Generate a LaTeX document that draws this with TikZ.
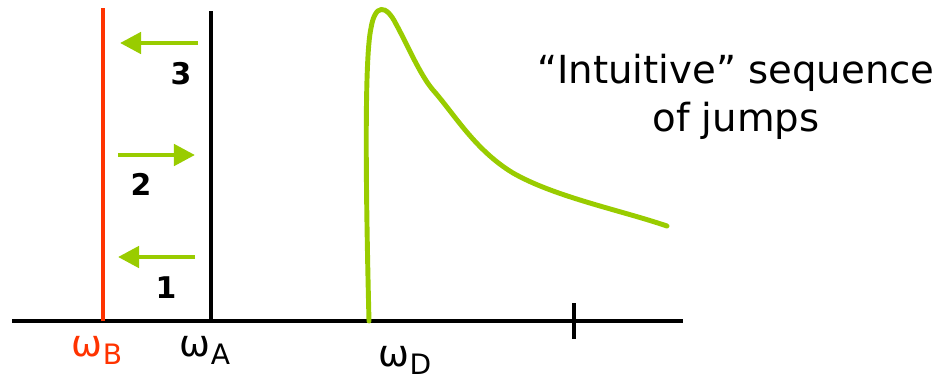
\documentclass[tikz,border=0pt]{standalone}
\usepackage{fontspec}
\setmainfont{DejaVu Sans}
\usetikzlibrary{arrows.meta,positioning}
\definecolor{jumpgreen}{HTML}{99CC00}
\definecolor{levelred}{HTML}{FF3300}
\tikzset{
  axisline/.style={line width=2.4pt, black},
  jump/.style={line width=2.6pt, jumpgreen, -{Triangle[length=12pt,width=12pt]}},
  steplabel/.style={font=\fontsize{17}{20}\selectfont\bfseries},
  freqlabel/.style={font=\fontsize{21}{24}\selectfont, anchor=base}
}
\newcommand{\freq}[1]{ω\raisebox{-0.4ex}{\fontsize{16}{18}\selectfont #1}}
\begin{document}
\begin{tikzpicture}[x=0.02cm,y=-0.02cm]
\useasboundingbox (0,0) rectangle (943,386);
% axis and levels
\coordinate (ax0) at (12,321);
\coordinate (ax1) at (683,321);
\draw[axisline] (ax0) -- (ax1);
\coordinate (Bbot) at (103,321); \coordinate (Btop) at (103,8);
\draw[line width=2.6pt, levelred] (Bbot) -- (Btop);
\coordinate (Abot) at (211,321); \coordinate (Atop) at (211,11);
\draw[axisline] (Abot) -- (Atop);
\coordinate (tk0) at (574,303); \coordinate (tk1) at (574,339);
\draw[axisline] (tk0) -- (tk1);
% jumps
\coordinate (j3s) at (198,43); \coordinate (j3e) at (120,43);
\coordinate (j2s) at (118,155); \coordinate (j2e) at (195,155);
\coordinate (j1s) at (195,257); \coordinate (j1e) at (118,257);
\draw[jump] (j3s) -- (j3e);
\draw[jump] (j2s) -- (j2e);
\draw[jump] (j1s) -- (j1e);
\node[steplabel] (n3) at (181,74) {3};
\node[steplabel] (n2) at (141,184) {2};
\node[steplabel] (n1) at (166,288) {1};
% spectrum
\draw[line width=2.8pt, jumpgreen, line cap=round] (369,321) .. controls (366,200) and (364,60) .. (371,28)
  .. controls (375,4) and (386,4) .. (396,24)
  .. controls (406,42) and (420,75) .. (433,90)
  .. controls (455,115) and (475,150) .. (513,173)
  .. controls (555,197) and (620,210) .. (667,226);
% labels
\node[freqlabel, text=levelred] (wB) at (97,356) {\freq{B}};
\node[freqlabel] (wA) at (205,356) {\freq{A}};
\node[freqlabel] (wD) at (405,366) {\freq{D}};
\node[align=center, font=\fontsize{22}{27}\selectfont] (title) at (736,97) {“Intuitive” sequence\\of jumps};
\end{tikzpicture}
\end{document}
